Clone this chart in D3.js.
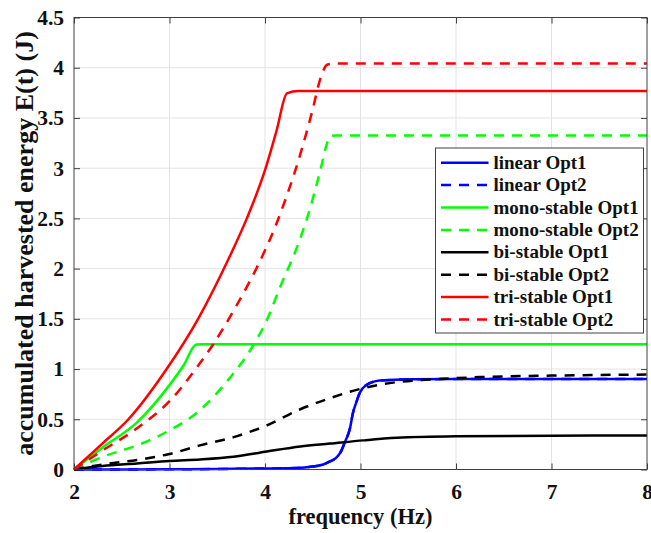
<!DOCTYPE html>
<html><head><meta charset="utf-8">
<script src="https://cdn.jsdelivr.net/npm/d3@7"></script>
<style>body{margin:0;background:#fff}</style>
</head><body>
<svg id="c" width="651" height="533"></svg>
<script>
const xTicks = [2,3,4,5,6,7,8];
const yTicks = [0,0.5,1,1.5,2,2.5,3,3.5,4,4.5];
const yTickLabels = ["0","0.5","1","1.5","2","2.5","3","3.5","4","4.5"];

const seriesNames = ["linear Opt1","linear Opt2","mono-stable Opt1","mono-stable Opt2","bi-stable Opt1","bi-stable Opt2","tri-stable Opt1","tri-stable Opt2"];
const seriesColors = ["#0000ff","#0000ff","#00ff00","#00ff00","#000000","#000000","#ff0000","#ff0000"];
const seriesDashed = [false,true,false,true,false,true,false,true];

const linFreq = [2,3,3.5,4,4.33,4.5,4.61,4.68,4.75,4.79,4.84,4.89,4.92,4.96,4.99,5.06,5.2,5.35,5.55,6,7,8];
const linE    = [0,0.002,0.005,0.01,0.015,0.03,0.05,0.08,0.12,0.17,0.28,0.41,0.56,0.68,0.76,0.84,0.885,0.893,0.898,0.9,0.9,0.9];

const monoFreq1 = [2,2.3,2.66,3.0,3.15,3.28,3.35,8];
const monoE1    = [0,0.22,0.47,0.84,1.04,1.245,1.248,1.248];
const monoFreq2 = [2,2.31,2.66,3.0,3.28,3.63,3.88,4.02,4.16,4.35,4.44,4.58,4.65,4.68,4.75,8];
const monoE2    = [0,0.13,0.24,0.39,0.56,0.91,1.24,1.49,1.82,2.25,2.5,2.98,3.25,3.32,3.325,3.325];

const biFreq1 = [2,2.3,2.66,3.0,3.32,3.67,4.02,4.37,4.68,5.03,5.38,6.0,7,8];
const biE1    = [0,0.035,0.06,0.085,0.1,0.127,0.18,0.23,0.258,0.29,0.315,0.33,0.336,0.338];
const biFreq2 = [2,2.3,2.66,3.0,3.32,3.7,4.02,4.37,4.68,5.03,5.38,5.73,6.25,7,8];
const biE2    = [0,0.05,0.095,0.155,0.24,0.33,0.44,0.6,0.71,0.81,0.87,0.895,0.92,0.935,0.945];

const triFreq1 = [2,2.3,2.57,2.97,3.30,3.63,3.81,4.0,4.12,4.23,4.35,8];
const triE1    = [0,0.26,0.5,1.0,1.5,2.12,2.5,2.98,3.37,3.745,3.768,3.768];
const triFreq2 = [2,2.3,2.66,3.0,3.32,3.46,3.7,3.98,4.1,4.23,4.37,4.49,4.59,4.65,4.72,8];
const triE2    = [0,0.19,0.41,0.68,1.06,1.25,1.63,2.14,2.4,2.73,3.14,3.55,3.92,4.03,4.042,4.042];

const seriesX = [linFreq,linFreq,monoFreq1,monoFreq2,biFreq1,biFreq2,triFreq1,triFreq2];
const seriesY = [linE,linE,monoE1,monoE2,biE1,biE2,triE1,triE2];

const L=74, R=647, T=17.5, B=469.5;
const svg = d3.select("#c");
const x = d3.scaleLinear().domain([2,8]).range([L,R]);
const y = d3.scaleLinear().domain([0,4.5]).range([B,T]);
const font = "'Liberation Serif','Times New Roman',serif";

// grid
const g = svg.append("g");
g.selectAll(".gx").data(xTicks.slice(1,-1)).join("line")
  .attr("x1",d=>x(d)).attr("x2",d=>x(d)).attr("y1",T).attr("y2",B)
  .attr("stroke","#e3e3e3").attr("stroke-width",1);
g.selectAll(".gy").data(yTicks.slice(1,-1)).join("line")
  .attr("y1",d=>y(d)).attr("y2",d=>y(d)).attr("x1",L).attr("x2",R)
  .attr("stroke","#e3e3e3").attr("stroke-width",1);

// axes
const xAxis = d3.axisBottom(x).tickValues(xTicks).tickSize(-6).tickPadding(14).tickFormat(d3.format("d"));
const yAxis = d3.axisLeft(y).tickValues(yTicks).tickSize(-6).tickPadding(10).tickFormat((d,i)=>yTickLabels[i]);
const xa = svg.append("g").attr("transform",`translate(0,${B})`).call(xAxis);
const ya = svg.append("g").attr("transform",`translate(${L},0)`).call(yAxis);
const xt = svg.append("g").attr("transform",`translate(0,${T})`).call(d3.axisTop(x).tickValues(xTicks).tickSize(-6).tickFormat(""));
const yr = svg.append("g").attr("transform",`translate(${R},0)`).call(d3.axisRight(y).tickValues(yTicks).tickSize(-6).tickFormat(""));
[xa,ya,xt,yr].forEach(a=>{
  a.select(".domain").remove();
  a.selectAll(".tick line").attr("stroke","#404040");
  a.selectAll("text").attr("font-family",font).attr("font-weight","bold").attr("font-size",21.5).attr("fill","#111");
});

// lines
const line = d3.line().curve(d3.curveMonotoneX);
const lg = svg.append("g");
seriesNames.forEach((n,i)=>{
  const pts = seriesX[i].map((f,j)=>[x(f),y(seriesY[i][j])]);
  lg.append("path").attr("d",line(pts)).attr("fill","none")
    .attr("stroke",seriesColors[i]).attr("stroke-width",2.5)
    .attr("stroke-dasharray",seriesDashed[i]?"10,8":null);
});

// box
svg.append("rect").attr("x",L).attr("y",T).attr("width",R-L).attr("height",B-T)
  .attr("fill","none").attr("stroke","#404040").attr("stroke-width",1);

// labels
svg.append("text").attr("x",(L+R)/2).attr("y",524).attr("text-anchor","middle")
  .attr("font-family",font).attr("font-weight","bold").attr("font-size",22.5).attr("fill","#111")
  .text("frequency (Hz)");
svg.append("text").attr("transform",`translate(33,${(T+B)/2}) rotate(-90)`).attr("text-anchor","middle")
  .attr("font-family",font).attr("font-weight","bold").attr("font-size",26).attr("fill","#111")
  .text("accumulated harvested energy E(t) (J)");

// legend
const lx=435.5, ly=148, lw=208, lh=185, rowH=22.4;
const leg = svg.append("g");
leg.append("rect").attr("x",lx).attr("y",ly).attr("width",lw).attr("height",lh)
  .attr("fill","#fff").attr("stroke","#404040").attr("stroke-width",1);
seriesNames.forEach((n,i)=>{
  const cy = ly+14.7+i*rowH;
  leg.append("line").attr("x1",lx+5.5).attr("x2",lx+53).attr("y1",cy).attr("y2",cy)
    .attr("stroke",seriesColors[i]).attr("stroke-width",2.5)
    .attr("stroke-dasharray",seriesDashed[i]?"10,8":null);
  leg.append("text").attr("x",lx+58).attr("y",cy+6)
    .attr("font-family",font).attr("font-weight","bold").attr("font-size",19).attr("fill","#111")
    .text(n);
});
</script>
</body></html>
